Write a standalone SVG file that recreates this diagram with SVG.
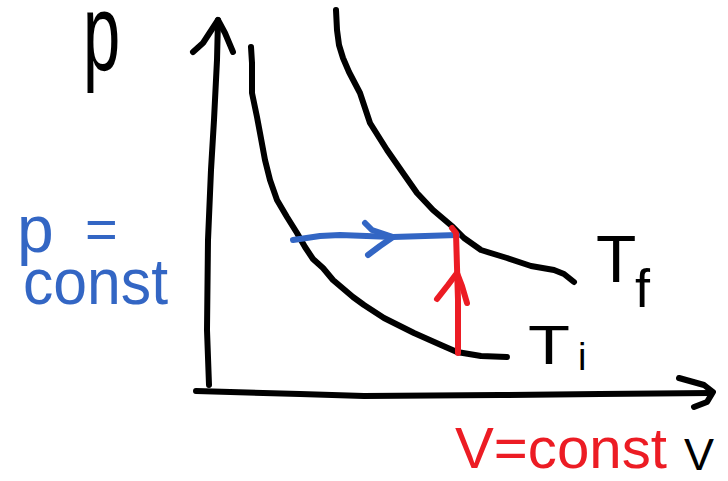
<svg xmlns="http://www.w3.org/2000/svg" width="728" height="481" viewBox="0 0 728 481">
<style>
.ink{fill:none;stroke-linecap:round;stroke-linejoin:round;stroke-width:6}
.k{stroke:#000}
.b{stroke:#3366c4}
.r{stroke:#ec1c24}
.t{font-family:"Liberation Sans",Arial,sans-serif}
</style>
<rect width="728" height="481" fill="#fff"/>
<g id="axes">
<path class="ink k" d="M209,385 L207,330 L208,240 L211,170 L214,120 L217,60 L218,20"/>
<path class="ink k" d="M193,52 L203,43 L218,20 L225,33 L233,52"/>
<path class="ink k" d="M196,391 L300,394 L364,396 L500,395 L600,394 L711,393"/>
<path class="ink k" d="M679,378 L704,385 L713,392 L707,402 L694,407"/>
</g>
<g id="isotherm-Ti">
<path class="ink k" d="M251,47 L252,63 L252,93 L257,117 L260,133 L265,160 L270,180 L277,200 L287,217 L297,233 L305,247 L313,259 L323,268 L333,280 L353,297 L364,305 L384,318 L414,333 L441,345 L457,352 L481,356 L507,357"/>
</g>
<g id="isotherm-Tf">
<path class="ink k" d="M336,10 L337,30 L339,45 L343,58 L349,72 L360,93 L370,123 L387,150 L403,173 L417,193 L433,210 L453,227 L464,238 L481,250 L507,258 L531,266 L554,270 L564,274 L574,282"/>
</g>
<g id="connectors">
<g id="isobaric">
<path class="ink b" d="M293,240 L320,236 L340,235 L393,237 L457,235"/>
<path class="ink b" d="M365,223 L372,230 L393,237 L380,246 L368,255"/>
</g>
<g id="isochoric">
<path class="ink r" d="M452,228 L456,233 L457,267 L458,300 L458,353"/>
<path class="ink r" d="M437,299 L448,285 L457,273 L462,286 L467,303"/>
</g>
</g>
<g id="labels" class="t">
<text transform="translate(83,70) scale(0.67,1.1)" font-size="100" fill="#000">p</text>
<text fill="#3366c4"><tspan x="17" y="252" font-size="66">p</tspan><tspan x="85" y="248" font-size="56">=</tspan><tspan x="23" y="304" font-size="64" textLength="145" lengthAdjust="spacingAndGlyphs">const</tspan></text>
<text x="596" y="282" font-size="66" fill="#000">T</text>
<text x="635" y="307" font-size="54" fill="#000">f</text>
<text x="528" y="364" font-size="56" fill="#000" textLength="42" lengthAdjust="spacingAndGlyphs">T</text>
<text x="578" y="370" font-size="38" fill="#000">i</text>
<text x="455" y="468" font-size="57" fill="#ec1c24" textLength="212" lengthAdjust="spacingAndGlyphs">V=const</text>
<text x="684" y="470" font-size="45" fill="#000">V</text>
</g>
</svg>
